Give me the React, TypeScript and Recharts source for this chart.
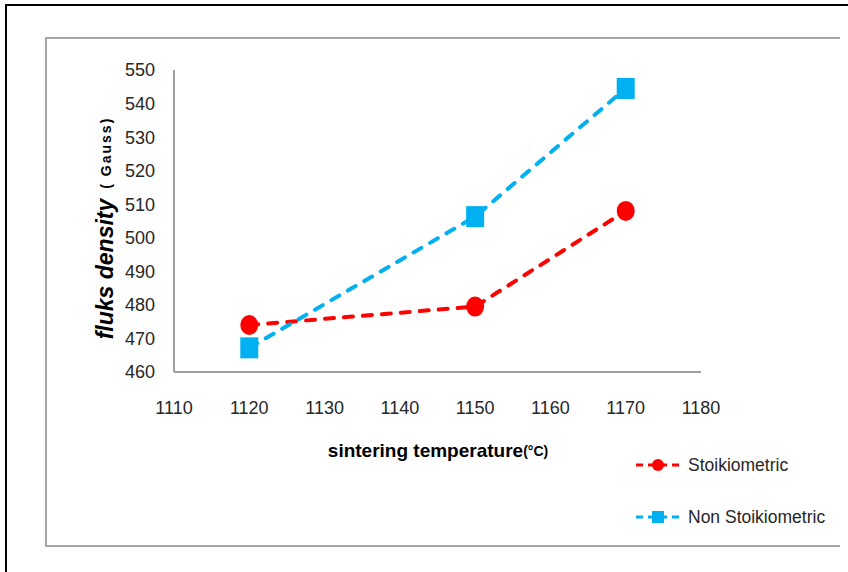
import React from 'react';
import { LineChart, Line, XAxis, YAxis, Legend, Label } from 'recharts';

const temperatures = [1120, 1150, 1170];
const stoikiometric = [474, 479.5, 508];
const nonStoikiometric = [467.2, 506.3, 544.5];
const xTicks = [1110, 1120, 1130, 1140, 1150, 1160, 1170, 1180];
const yTicks = [460, 470, 480, 490, 500, 510, 520, 530, 540, 550];

const RED = '#ff0000';
const BLUE = '#00b0f0';
const FONT = '"Liberation Sans Narrow", "Liberation Sans", Arial, sans-serif';

const chartData = temperatures.map((t, i) => ({
  temp: t,
  stoik: stoikiometric[i],
  nonStoik: nonStoikiometric[i],
}));

const CircleDot = (props: any) => {
  const { cx, cy } = props;
  if (cx == null || cy == null) return null;
  return <ellipse cx={cx} cy={cy} rx={9} ry={10} fill={RED} />;
};

const SquareDot = (props: any) => {
  const { cx, cy } = props;
  if (cx == null || cy == null) return null;
  return <rect x={cx - 9} y={cy - 10.5} width={18} height={21} fill={BLUE} />;
};

const legendItems = [
  { name: 'Stoikiometric', color: RED, shape: 'circle' },
  { name: 'Non Stoikiometric', color: BLUE, shape: 'square' },
];

const renderLegend = () => (
  <div style={{ fontFamily: FONT, fontSize: 17.5, color: '#262626' }}>
    {legendItems.map((item) => (
      <div key={item.name} style={{ display: 'flex', alignItems: 'center', height: 26, marginBottom: 26 }}>
        <svg width={50} height={20} style={{ marginRight: 4 }}>
          <line x1={2} y1={10} x2={46} y2={10} stroke={item.color} strokeWidth={3} strokeDasharray="7 5" />
          {item.shape === 'circle' ? (
            <circle cx={24} cy={10} r={6} fill={item.color} />
          ) : (
            <rect x={18} y={4} width={12} height={12} fill={item.color} />
          )}
        </svg>
        <span>{item.name}</span>
      </div>
    ))}
  </div>
);

const YTitle = () => (
  <text
    x={107}
    y={228}
    transform="rotate(-90 107 228)"
    textAnchor="middle"
    dominantBaseline="middle"
    fontFamily={FONT}
    fill="#000"
    fontWeight="bold"
  >
    <tspan fontSize={23} fontStyle="italic">fluks density</tspan>
    <tspan fontSize={14} dx={10} letterSpacing={2}>( Gauss)</tspan>
  </text>
);

const XTitle = () => (
  <text x={438} y={452} textAnchor="middle" dominantBaseline="middle" fontFamily={FONT} fontWeight="bold" fill="#000">
    <tspan fontSize={19}>sintering temperature</tspan>
    <tspan fontSize={14}>(°C)</tspan>
  </text>
);

export default function App() {
  return (
    <div style={{ position: 'relative', width: 848, height: 572, background: '#fff', overflow: 'hidden' }}>
      <style>{'body{margin:0}'}</style>
      <div
        style={{
          position: 'absolute',
          left: 5,
          top: 4,
          width: 900,
          height: 700,
          border: '2px solid #000',
        }}
      />
      <div
        style={{
          position: 'absolute',
          left: 45,
          top: 37,
          width: 793,
          height: 506,
          borderTop: '2px solid #a6a6a6',
          borderLeft: '2px solid #a6a6a6',
          borderBottom: '2px solid #a6a6a6',
        }}
      />
      <div style={{ position: 'absolute', left: 0, top: 0 }}>
        <LineChart
          width={848}
          height={572}
          data={chartData}
          margin={{ top: 70, right: 147, bottom: 160, left: 114 }}
        >
          <XAxis
            dataKey="temp"
            type="number"
            domain={[1110, 1180]}
            ticks={xTicks}
            height={40}
            axisLine={{ stroke: '#a0a0a0', strokeWidth: 2 }}
            tickLine={false}
            tickSize={0}
            tickMargin={29}
            tick={{ fill: '#262626', fontSize: 18, fontFamily: FONT }}
          >
            <Label content={<XTitle />} />
          </XAxis>
          <YAxis
            type="number"
            domain={[460, 550]}
            ticks={yTicks}
            width={60}
            axisLine={{ stroke: '#a0a0a0', strokeWidth: 2 }}
            tickLine={false}
            tickSize={0}
            tickMargin={19}
            tick={{ fill: '#262626', fontSize: 18, fontFamily: FONT }}
          >
            <Label content={<YTitle />} />
          </YAxis>
          <Legend
            layout="vertical"
            align="center"
            verticalAlign="middle"
            content={renderLegend}
            wrapperStyle={{ left: 634, top: 452, width: 214 }}
          />
          <Line
            type="linear"
            dataKey="stoik"
            name="Stoikiometric"
            stroke={RED}
            strokeWidth={4}
            strokeDasharray="9 10"
            strokeLinecap="round"
            dot={<CircleDot />}
            activeDot={false}
            isAnimationActive={false}
          />
          <Line
            type="linear"
            dataKey="nonStoik"
            name="Non Stoikiometric"
            stroke={BLUE}
            strokeWidth={4}
            strokeDasharray="9 10"
            strokeLinecap="round"
            dot={<SquareDot />}
            activeDot={false}
            isAnimationActive={false}
          />
        </LineChart>
      </div>
    </div>
  );
}
